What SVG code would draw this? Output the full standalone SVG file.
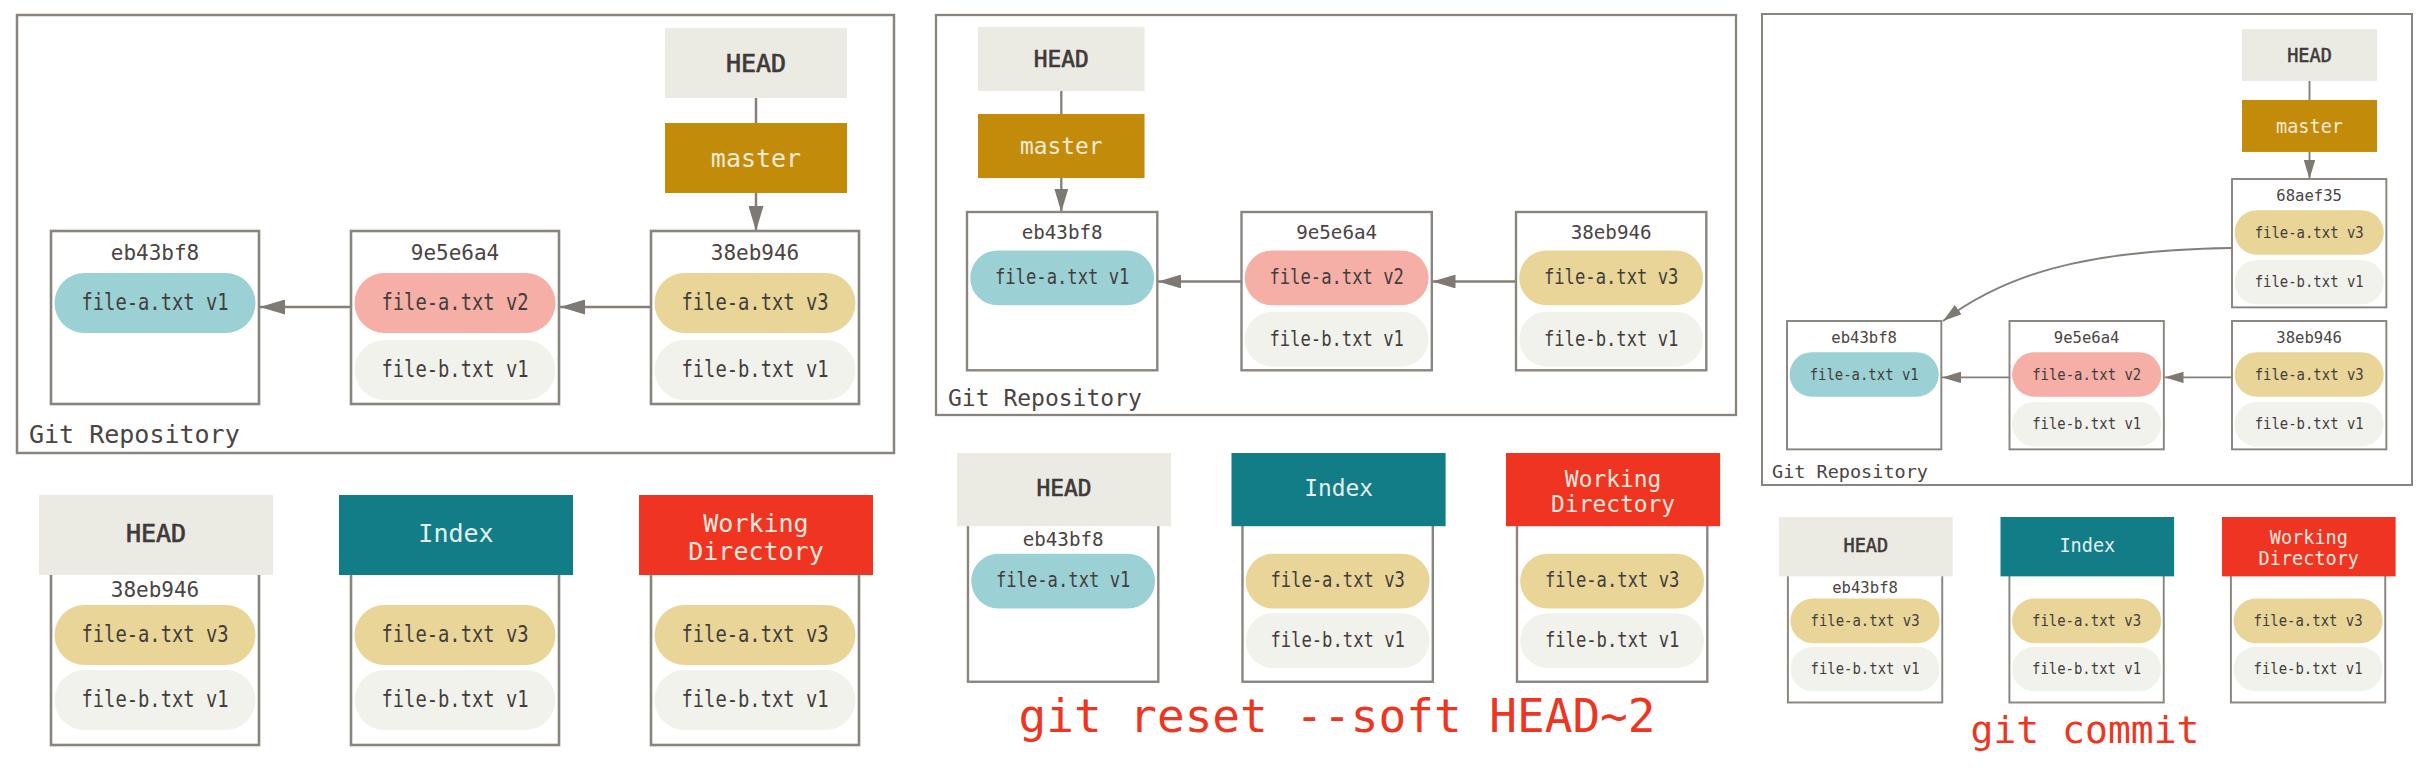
<svg xmlns="http://www.w3.org/2000/svg" width="2426" height="774" viewBox="0 0 2426 774">
<style>
text{font-family:"DejaVu Sans Mono","Liberation Mono",monospace;fill:#4a4443;text-anchor:middle}
.frame{fill:none;stroke:#8a847f;stroke-width:2.5}
.box{fill:#fff;stroke:#8a847f;stroke-width:2.6}
.lbl{font-size:21px}
.ft{font-size:22.5px;fill:#423d3c}
.hd{font-size:25px;stroke:#3f3a39;stroke-width:0.7;fill:#3f3a39}
.wh{font-size:25px}
.repo{font-size:25px;text-anchor:start}
.cmd{fill:#ee3522;font-size:46px}
.headf{fill:#ebeae3}
.mastf{fill:#c28c0a}
.idxf{fill:#127d86}
.wdf{fill:#ef3522}
.mt{fill:#f3ead8}
.it{fill:#e4f0f0}
.wt{fill:#fde6de}
.pb{fill:#9bd1d4}
.pp{fill:#f5afa7}
.py{fill:#e8d597}
.pg{fill:#f2f2ed}
.con{fill:none;stroke:#857f79}
</style>
<defs>
<marker id="arr" markerUnits="strokeWidth" markerWidth="10" markerHeight="6" refX="10" refY="3" orient="auto">
<path d="M0,0 L10,3 L0,6 z" fill="#7f7973"/>
</marker>
</defs>

<!-- Panel frames -->
<g id="frames">
<rect class="frame" x="17" y="15" width="877" height="438"/>
<text class="repo" x="29" y="443">Git Repository</text>
<rect class="frame" x="936" y="15" width="800" height="400" style="stroke-width:2.3"/>
<text class="repo" x="948" y="406" style="font-size:23px">Git Repository</text>
<rect class="frame" x="1762" y="14" width="650" height="471" style="stroke-width:2"/>
<text class="repo" x="1772" y="478" style="font-size:18.5px">Git Repository</text>
</g>

<!-- Connectors -->
<g id="connectors">
<line class="con" x1="756" y1="98" x2="756" y2="123" stroke-width="2.5"/>
<line class="con" x1="756" y1="193" x2="756" y2="231" stroke-width="2.5" marker-end="url(#arr)"/>
<line class="con" x1="651" y1="307" x2="560" y2="307" stroke-width="2.5" marker-end="url(#arr)"/>
<line class="con" x1="351" y1="307" x2="260" y2="307" stroke-width="2.5" marker-end="url(#arr)"/>

<line class="con" x1="1061.3" y1="91" x2="1061.3" y2="114" stroke-width="2.3"/>
<line class="con" x1="1061.3" y1="178" x2="1061.3" y2="212" stroke-width="2.3" marker-end="url(#arr)"/>
<line class="con" x1="1516" y1="281.5" x2="1432.5" y2="281.5" stroke-width="2.3" marker-end="url(#arr)"/>
<line class="con" x1="1241.5" y1="281.5" x2="1158" y2="281.5" stroke-width="2.3" marker-end="url(#arr)"/>

<line class="con" x1="2309.5" y1="81" x2="2309.5" y2="100" stroke-width="1.9"/>
<line class="con" x1="2309.5" y1="152" x2="2309.5" y2="179" stroke-width="1.9" marker-end="url(#arr)"/>
<line class="con" x1="2232" y1="377.4" x2="2164.5" y2="377.4" stroke-width="1.9" marker-end="url(#arr)"/>
<line class="con" x1="2009.5" y1="377.4" x2="1942" y2="377.4" stroke-width="1.9" marker-end="url(#arr)"/>
<path class="con" d="M2232,248 C2080,250 2003,276 1943,321" stroke-width="1.9" marker-end="url(#arr)"/>
</g>

<!-- Panel 1 repository -->
<g id="p1-head" transform="translate(665,28)">
<rect class="headf" width="182" height="70"/>
<text class="hd" x="91" y="44">HEAD</text>
</g>
<g id="p1-master" transform="translate(665,123)">
<rect class="mastf" width="182" height="70"/>
<text class="wh mt" x="91" y="44">master</text>
</g>
<g id="p1-eb43bf8" transform="translate(51,231)">
<rect class="box" width="208" height="173"/>
<text class="lbl" x="104" y="29">eb43bf8</text>
<rect class="pb" x="3.5" y="42" width="201" height="60" rx="30"/>
<text class="ft" x="104" y="79" textLength="147" lengthAdjust="spacingAndGlyphs">file-a.txt v1</text>
</g>
<g id="p1-9e5e6a4" transform="translate(351,231)">
<rect class="box" width="208" height="173"/>
<text class="lbl" x="104" y="29">9e5e6a4</text>
<rect class="pp" x="3.5" y="42" width="201" height="60" rx="30"/>
<text class="ft" x="104" y="79" textLength="147" lengthAdjust="spacingAndGlyphs">file-a.txt v2</text>
<rect class="pg" x="3.5" y="109" width="201" height="60" rx="30"/>
<text class="ft" x="104" y="146" textLength="147" lengthAdjust="spacingAndGlyphs">file-b.txt v1</text>
</g>
<g id="p1-38eb946" transform="translate(651,231)">
<rect class="box" width="208" height="173"/>
<text class="lbl" x="104" y="29">38eb946</text>
<rect class="py" x="3.5" y="42" width="201" height="60" rx="30"/>
<text class="ft" x="104" y="79" textLength="147" lengthAdjust="spacingAndGlyphs">file-a.txt v3</text>
<rect class="pg" x="3.5" y="109" width="201" height="60" rx="30"/>
<text class="ft" x="104" y="146" textLength="147" lengthAdjust="spacingAndGlyphs">file-b.txt v1</text>
</g>

<!-- Panel 1 trees -->
<g id="p1-tree-head" transform="translate(39,495)">
<rect class="box" x="12" y="78" width="208" height="172"/>
<rect class="headf" width="234" height="80"/>
<text class="hd" x="117" y="47">HEAD</text>
<text class="lbl" x="116" y="102">38eb946</text>
<rect class="py" x="15.5" y="110" width="201" height="60" rx="30"/>
<text class="ft" x="116" y="147" textLength="147" lengthAdjust="spacingAndGlyphs">file-a.txt v3</text>
<rect class="pg" x="15.5" y="175" width="201" height="60" rx="30"/>
<text class="ft" x="116" y="212" textLength="147" lengthAdjust="spacingAndGlyphs">file-b.txt v1</text>
</g>
<g id="p1-tree-index" transform="translate(339,495)">
<rect class="box" x="12" y="78" width="208" height="172"/>
<rect class="idxf" width="234" height="80"/>
<text class="wh it" x="117" y="47">Index</text>
<rect class="py" x="15.5" y="110" width="201" height="60" rx="30"/>
<text class="ft" x="116" y="147" textLength="147" lengthAdjust="spacingAndGlyphs">file-a.txt v3</text>
<rect class="pg" x="15.5" y="175" width="201" height="60" rx="30"/>
<text class="ft" x="116" y="212" textLength="147" lengthAdjust="spacingAndGlyphs">file-b.txt v1</text>
</g>
<g id="p1-tree-wd" transform="translate(639,495)">
<rect class="box" x="12" y="78" width="208" height="172"/>
<rect class="wdf" width="234" height="80"/>
<text class="wh wt" x="117" y="37">Working</text>
<text class="wh wt" x="117" y="65">Directory</text>
<rect class="py" x="15.5" y="110" width="201" height="60" rx="30"/>
<text class="ft" x="116" y="147" textLength="147" lengthAdjust="spacingAndGlyphs">file-a.txt v3</text>
<rect class="pg" x="15.5" y="175" width="201" height="60" rx="30"/>
<text class="ft" x="116" y="212" textLength="147" lengthAdjust="spacingAndGlyphs">file-b.txt v1</text>
</g>

<!-- Panel 2 repository -->
<g id="p2-head" transform="translate(978,27) scale(0.915)">
<rect class="headf" width="182" height="70"/>
<text class="hd" x="91" y="44">HEAD</text>
</g>
<g id="p2-master" transform="translate(978,114) scale(0.915)">
<rect class="mastf" width="182" height="70"/>
<text class="wh mt" x="91" y="44">master</text>
</g>
<g id="p2-eb43bf8" transform="translate(967,212) scale(0.915)">
<rect class="box" width="208" height="173"/>
<text class="lbl" x="104" y="29">eb43bf8</text>
<rect class="pb" x="3.5" y="42" width="201" height="60" rx="30"/>
<text class="ft" x="104" y="79" textLength="147" lengthAdjust="spacingAndGlyphs">file-a.txt v1</text>
</g>
<g id="p2-9e5e6a4" transform="translate(1241.5,212) scale(0.915)">
<rect class="box" width="208" height="173"/>
<text class="lbl" x="104" y="29">9e5e6a4</text>
<rect class="pp" x="3.5" y="42" width="201" height="60" rx="30"/>
<text class="ft" x="104" y="79" textLength="147" lengthAdjust="spacingAndGlyphs">file-a.txt v2</text>
<rect class="pg" x="3.5" y="109" width="201" height="60" rx="30"/>
<text class="ft" x="104" y="146" textLength="147" lengthAdjust="spacingAndGlyphs">file-b.txt v1</text>
</g>
<g id="p2-38eb946" transform="translate(1516,212) scale(0.915)">
<rect class="box" width="208" height="173"/>
<text class="lbl" x="104" y="29">38eb946</text>
<rect class="py" x="3.5" y="42" width="201" height="60" rx="30"/>
<text class="ft" x="104" y="79" textLength="147" lengthAdjust="spacingAndGlyphs">file-a.txt v3</text>
<rect class="pg" x="3.5" y="109" width="201" height="60" rx="30"/>
<text class="ft" x="104" y="146" textLength="147" lengthAdjust="spacingAndGlyphs">file-b.txt v1</text>
</g>

<!-- Panel 2 trees -->
<g id="p2-tree-head" transform="translate(957,453) scale(0.915)">
<rect class="box" x="12" y="78" width="208" height="172"/>
<rect class="headf" width="234" height="80"/>
<text class="hd" x="117" y="47">HEAD</text>
<text class="lbl" x="116" y="102">eb43bf8</text>
<rect class="pb" x="15.5" y="110" width="201" height="60" rx="30"/>
<text class="ft" x="116" y="147" textLength="147" lengthAdjust="spacingAndGlyphs">file-a.txt v1</text>
</g>
<g id="p2-tree-index" transform="translate(1231.5,453) scale(0.915)">
<rect class="box" x="12" y="78" width="208" height="172"/>
<rect class="idxf" width="234" height="80"/>
<text class="wh it" x="117" y="47">Index</text>
<rect class="py" x="15.5" y="110" width="201" height="60" rx="30"/>
<text class="ft" x="116" y="147" textLength="147" lengthAdjust="spacingAndGlyphs">file-a.txt v3</text>
<rect class="pg" x="15.5" y="175" width="201" height="60" rx="30"/>
<text class="ft" x="116" y="212" textLength="147" lengthAdjust="spacingAndGlyphs">file-b.txt v1</text>
</g>
<g id="p2-tree-wd" transform="translate(1506,453) scale(0.915)">
<rect class="box" x="12" y="78" width="208" height="172"/>
<rect class="wdf" width="234" height="80"/>
<text class="wh wt" x="117" y="37">Working</text>
<text class="wh wt" x="117" y="65">Directory</text>
<rect class="py" x="15.5" y="110" width="201" height="60" rx="30"/>
<text class="ft" x="116" y="147" textLength="147" lengthAdjust="spacingAndGlyphs">file-a.txt v3</text>
<rect class="pg" x="15.5" y="175" width="201" height="60" rx="30"/>
<text class="ft" x="116" y="212" textLength="147" lengthAdjust="spacingAndGlyphs">file-b.txt v1</text>
</g>
<text id="cmd-reset" class="cmd" x="1337" y="732">git reset --soft HEAD~2</text>

<!-- Panel 3 repository -->
<g id="p3-head" transform="translate(2242,29) scale(0.742)">
<rect class="headf" width="182" height="70"/>
<text class="hd" x="91" y="44">HEAD</text>
</g>
<g id="p3-master" transform="translate(2242,100) scale(0.742)">
<rect class="mastf" width="182" height="70"/>
<text class="wh mt" x="91" y="44">master</text>
</g>
<g id="p3-68aef35" transform="translate(2232,179) scale(0.742)">
<rect class="box" width="208" height="173"/>
<text class="lbl" x="104" y="29">68aef35</text>
<rect class="py" x="3.5" y="42" width="201" height="60" rx="30"/>
<text class="ft" x="104" y="79" textLength="147" lengthAdjust="spacingAndGlyphs">file-a.txt v3</text>
<rect class="pg" x="3.5" y="109" width="201" height="60" rx="30"/>
<text class="ft" x="104" y="146" textLength="147" lengthAdjust="spacingAndGlyphs">file-b.txt v1</text>
</g>
<g id="p3-eb43bf8" transform="translate(1787,321) scale(0.742)">
<rect class="box" width="208" height="173"/>
<text class="lbl" x="104" y="29">eb43bf8</text>
<rect class="pb" x="3.5" y="42" width="201" height="60" rx="30"/>
<text class="ft" x="104" y="79" textLength="147" lengthAdjust="spacingAndGlyphs">file-a.txt v1</text>
</g>
<g id="p3-9e5e6a4" transform="translate(2009.5,321) scale(0.742)">
<rect class="box" width="208" height="173"/>
<text class="lbl" x="104" y="29">9e5e6a4</text>
<rect class="pp" x="3.5" y="42" width="201" height="60" rx="30"/>
<text class="ft" x="104" y="79" textLength="147" lengthAdjust="spacingAndGlyphs">file-a.txt v2</text>
<rect class="pg" x="3.5" y="109" width="201" height="60" rx="30"/>
<text class="ft" x="104" y="146" textLength="147" lengthAdjust="spacingAndGlyphs">file-b.txt v1</text>
</g>
<g id="p3-38eb946" transform="translate(2232,321) scale(0.742)">
<rect class="box" width="208" height="173"/>
<text class="lbl" x="104" y="29">38eb946</text>
<rect class="py" x="3.5" y="42" width="201" height="60" rx="30"/>
<text class="ft" x="104" y="79" textLength="147" lengthAdjust="spacingAndGlyphs">file-a.txt v3</text>
<rect class="pg" x="3.5" y="109" width="201" height="60" rx="30"/>
<text class="ft" x="104" y="146" textLength="147" lengthAdjust="spacingAndGlyphs">file-b.txt v1</text>
</g>

<!-- Panel 3 trees -->
<g id="p3-tree-head" transform="translate(1779,517) scale(0.742)">
<rect class="box" x="12" y="78" width="208" height="172"/>
<rect class="headf" width="234" height="80"/>
<text class="hd" x="117" y="47">HEAD</text>
<text class="lbl" x="116" y="102">eb43bf8</text>
<rect class="py" x="15.5" y="110" width="201" height="60" rx="30"/>
<text class="ft" x="116" y="147" textLength="147" lengthAdjust="spacingAndGlyphs">file-a.txt v3</text>
<rect class="pg" x="15.5" y="175" width="201" height="60" rx="30"/>
<text class="ft" x="116" y="212" textLength="147" lengthAdjust="spacingAndGlyphs">file-b.txt v1</text>
</g>
<g id="p3-tree-index" transform="translate(2000.5,517) scale(0.742)">
<rect class="box" x="12" y="78" width="208" height="172"/>
<rect class="idxf" width="234" height="80"/>
<text class="wh it" x="117" y="47">Index</text>
<rect class="py" x="15.5" y="110" width="201" height="60" rx="30"/>
<text class="ft" x="116" y="147" textLength="147" lengthAdjust="spacingAndGlyphs">file-a.txt v3</text>
<rect class="pg" x="15.5" y="175" width="201" height="60" rx="30"/>
<text class="ft" x="116" y="212" textLength="147" lengthAdjust="spacingAndGlyphs">file-b.txt v1</text>
</g>
<g id="p3-tree-wd" transform="translate(2222,517) scale(0.742)">
<rect class="box" x="12" y="78" width="208" height="172"/>
<rect class="wdf" width="234" height="80"/>
<text class="wh wt" x="117" y="37">Working</text>
<text class="wh wt" x="117" y="65">Directory</text>
<rect class="py" x="15.5" y="110" width="201" height="60" rx="30"/>
<text class="ft" x="116" y="147" textLength="147" lengthAdjust="spacingAndGlyphs">file-a.txt v3</text>
<rect class="pg" x="15.5" y="175" width="201" height="60" rx="30"/>
<text class="ft" x="116" y="212" textLength="147" lengthAdjust="spacingAndGlyphs">file-b.txt v1</text>
</g>
<text id="cmd-commit" class="cmd" x="2085" y="743" style="font-size:38px">git commit</text>
</svg>
